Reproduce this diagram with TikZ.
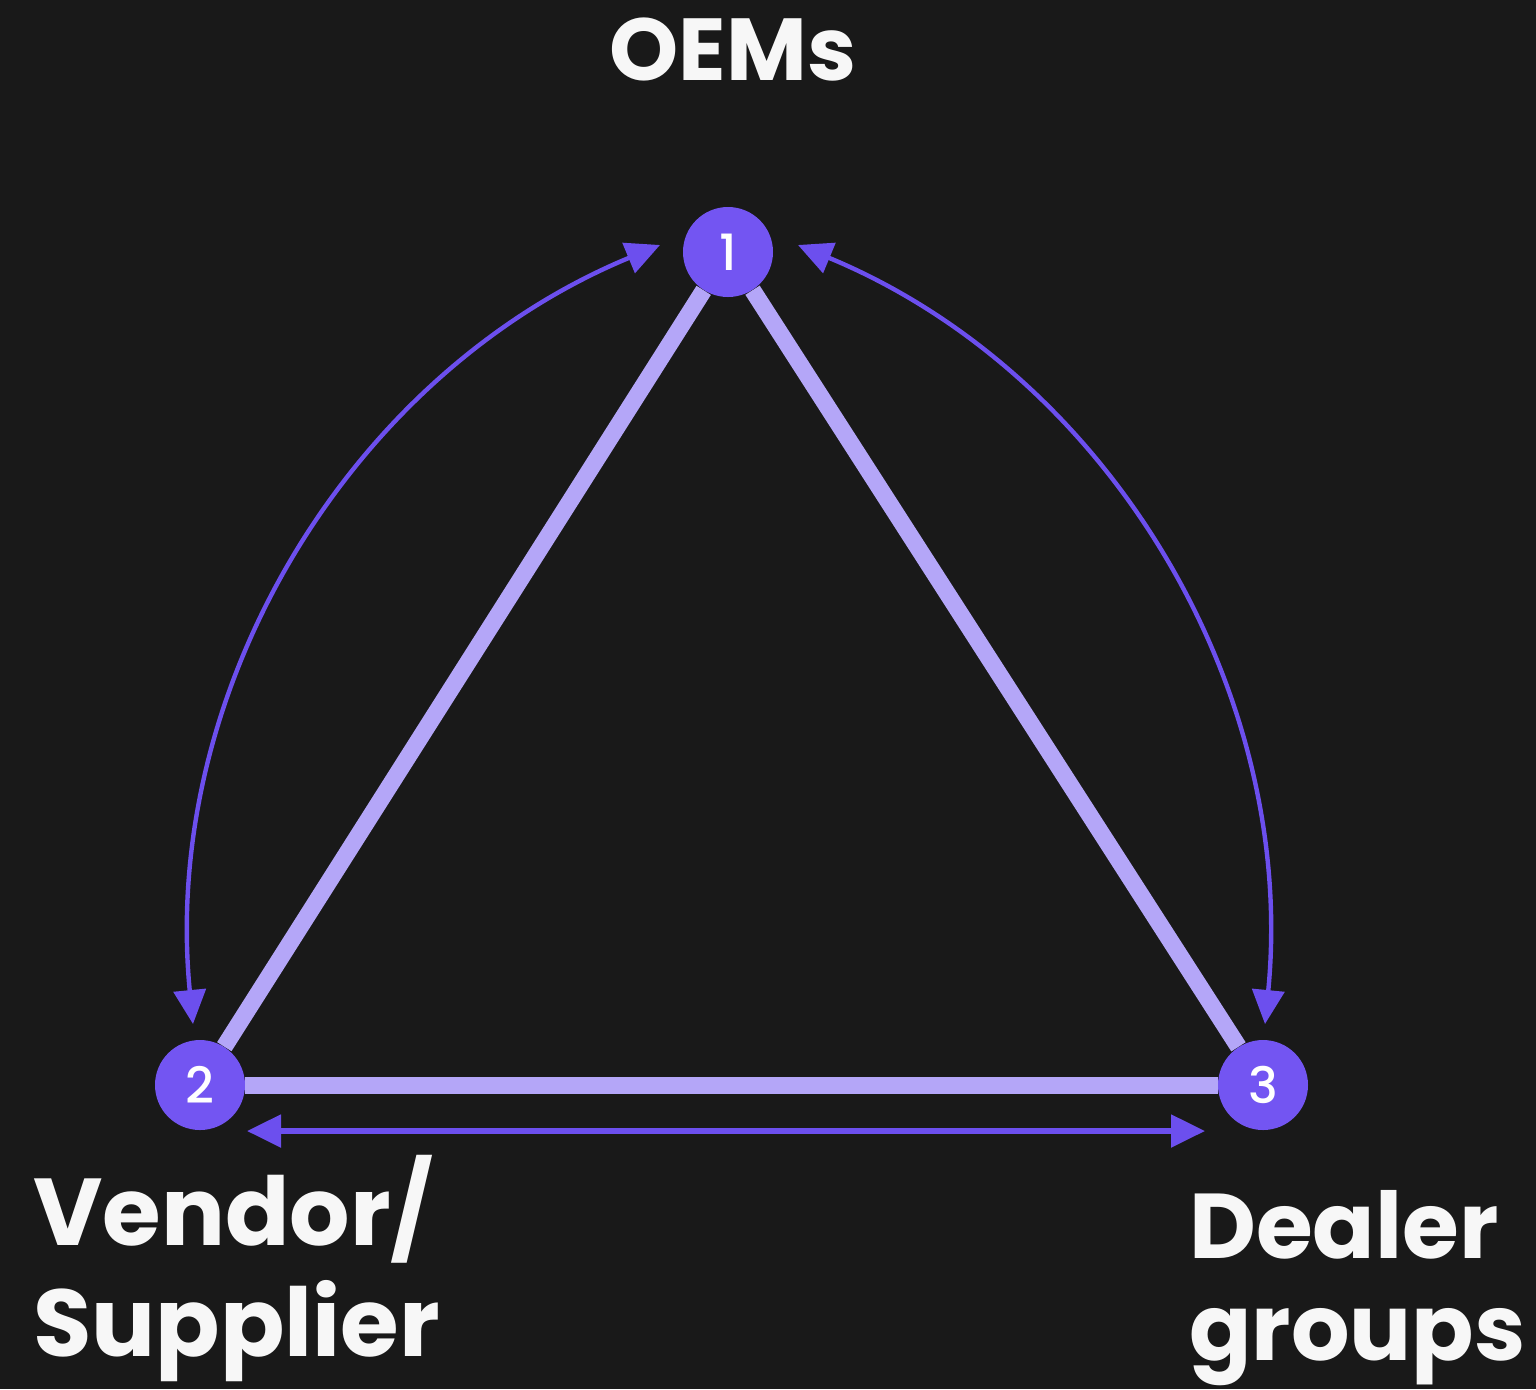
\documentclass[tikz,border=0pt]{standalone}
\usepackage{fontspec}
\setmainfont{Poppins}
\newfontfamily\numfont{Poppins Medium}
\usetikzlibrary{arrows.meta}
\definecolor{bg}{HTML}{191919}
\definecolor{nodefill}{HTML}{7355F2}
\definecolor{edgecol}{HTML}{B4A6F8}
\definecolor{arrowcol}{HTML}{6C4FEE}
\definecolor{txt}{HTML}{F7F7F7}
\begin{document}
\begin{tikzpicture}[x=0.5pt,y=-0.5pt,
  stage/.style={circle,fill=nodefill,minimum size=45pt,inner sep=0pt,
    text=white,font=\numfont\fontsize{25}{25}\selectfont},
  link/.style={draw=edgecol,line width=8.5pt},
  flow/.style={draw=arrowcol,line width=2.2pt,
    {Triangle[length=17pt,width=16pt]}-{Triangle[length=17pt,width=16pt]}},
  caption/.style={text=txt,inner sep=0pt,font=\bfseries\fontsize{#1}{#1}\selectfont},
  caption/.default=48
]
% canvas
\fill[bg] (0,0) rectangle (1536,1389);
\useasboundingbox (0,0) rectangle (1536,1389);

% the three parties
\node[stage] (n1) at (728,252) {1};
\node[stage] (n2) at (200,1085) {2};
\node[stage] (n3) at (1263,1085) {3};

% triangle of relationships
\draw[link] (n1) -- (n2);
\draw[link] (n1) -- (n3);
\draw[link] (n2) -- (n3);

% two-way flows
\coordinate (a12) at (660,245);
\coordinate (a21) at (193,1024);
\coordinate (a13) at (798,245);
\coordinate (a31) at (1265,1024);
\coordinate (a23) at (247,1131);
\coordinate (a32) at (1205,1131);
\draw[flow] (a21) .. controls (160.4,689.9) and (349.7,373.5) .. (a12);
\draw[flow] (a31) .. controls (1297.6,689.9) and (1108.3,373.5) .. (a13);
\draw[flow,line width=2.6pt] (a23) -- (a32);

% labels
\node[caption=44,anchor=base] (oem) at (733,80) {OEMs};
\node[caption=47.5,anchor=base west] (vendor) at (33,1245) {Vendor/};
\node[caption=47.5,anchor=base west] (supplier) at (33,1356) {Supplier};
\node[caption=46,anchor=base west] (dealer) at (1189,1258) {Dealer};
\node[caption=46,anchor=base west] (groups) at (1189,1360) {groups};
\end{tikzpicture}
\end{document}
